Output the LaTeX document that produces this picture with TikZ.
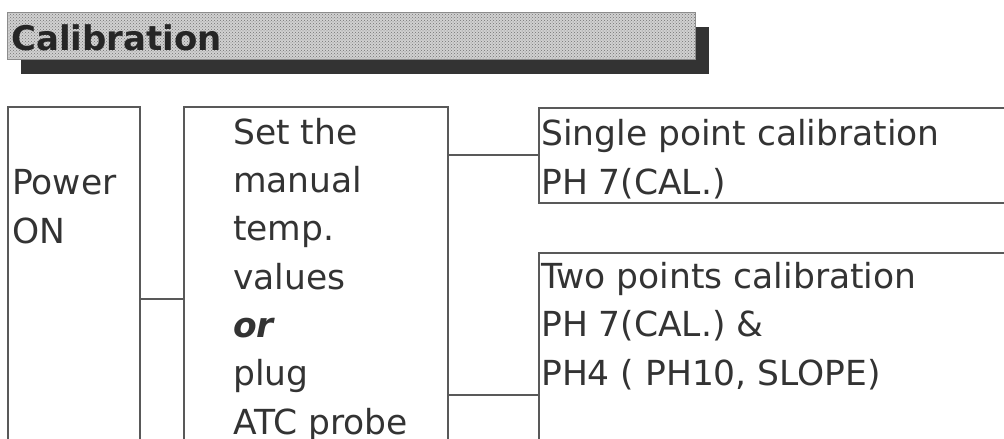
\documentclass[tikz,border=0pt]{standalone}
\usepackage{fontspec}
\setmainfont{DejaVu Sans}
\usetikzlibrary{positioning, patterns}
\tikzset{
stepbox/.style={draw=black!65, line width=1.5pt, anchor=north west, inner sep=0pt}, % frame of each step
steptext/.style={anchor=base west, align=left, inner sep=0pt, text=black!80,
  font=\fontsize{34.5}{48.3}\selectfont}, % text written inside a frame (placed by its last line)
link/.style={draw=black!65, line width=1.5pt}, % plain line between two frames
}

\begin{document}
\begin{tikzpicture}[x=1pt, y=1pt]
    \useasboundingbox (0,0) rectangle (1004,-439);
    \clip (0,0) rectangle (1004,-439);
    % heading bar with its shadow
    \fill[black!80] (21,-27) rectangle (709,-74);
    \node[anchor=north west, draw=black!45, preaction={fill=black!18}, pattern=crosshatch dots, pattern color=black!55,
      minimum width=688pt, minimum height=47pt, inner sep=0pt] (head) at (7,-12) {};
    \node[anchor=base west, inner sep=0pt, text=black!85, font=\fontsize{34}{40}\selectfont\bfseries] (headtxt) at (11,-50) {Calibration};
    % frames
    \node[stepbox, minimum width=132pt, minimum height=380pt] (power) at (7,-106) {};
    \node[stepbox, minimum width=264pt, minimum height=380pt] (manual) at (183,-106) {};
    \node[stepbox, minimum width=500pt, minimum height=95pt] (single) at (538,-107) {};
    \node[stepbox, minimum width=500pt, minimum height=250pt] (two) at (538,-252) {};
    % texts
    \node[steptext] (powertxt) at (12,-243) {Power\\ON};
    \node[steptext] (manualtxt) at (233,-434) {Set the\\manual\\temp.\\values\\\textbf{\textit{or}}\\plug\\ATC probe};
    \node[steptext] (singletxt) at (541,-194) {Single point calibration\\PH 7(CAL.)};
    \node[steptext] (twotxt) at (541,-385) {Two points calibration\\PH 7(CAL.) \&\\PH4 ( PH10, SLOPE)};
    % connections
    \draw[link] (power.east |- 0,-299) -- (manual.west |- 0,-299);
    \draw[link] (manual.east |- 0,-155) -- (single.west |- 0,-155);
    \draw[link] (manual.east |- 0,-395) -- (two.west |- 0,-395);
\end{tikzpicture}
\end{document}
